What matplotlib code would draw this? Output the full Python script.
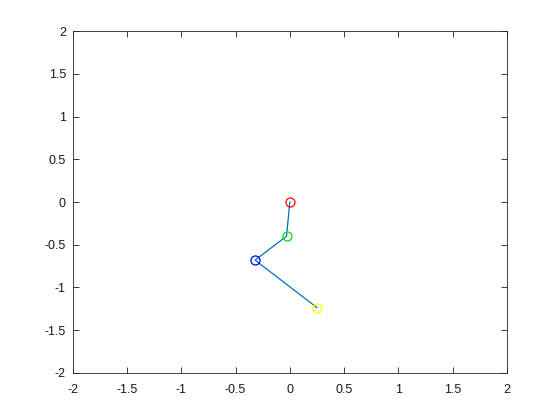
import matplotlib
matplotlib.use('Agg')
import matplotlib.pyplot as plt

# joint positions
xs = [0.0, -0.03, -0.32, 0.25]
ys = [0.0, -0.40, -0.68, -1.235]
joint_colors = ['#ff0000', '#00e000', '#0000ff', '#ffff00']

ticks = [-2, -1.5, -1, -0.5, 0, 0.5, 1, 1.5, 2]
tick_labels = ['-2', '-1.5', '-1', '-0.5', '0', '0.5', '1', '1.5', '2']

plt.rcParams['font.family'] = ['Liberation Sans', 'DejaVu Sans']

fig = plt.figure(figsize=(5.6, 4.2), dpi=100)
ax = fig.add_axes([0.13, 0.112, 0.775, 0.814])

ax.plot(xs, ys, color='#0072bd', linewidth=0.9)
for x, y, c in zip(xs, ys, joint_colors):
    ax.plot(x, y, 'o', markerfacecolor='none', markeredgecolor=c, markersize=6.5, markeredgewidth=0.9)

ax.set_xlim(-2, 2)
ax.set_ylim(-2, 2)
ax.set_xticks(ticks)
ax.set_xticklabels(tick_labels)
ax.set_yticks(ticks)
ax.set_yticklabels(tick_labels)
ax.tick_params(direction='in', top=True, right=True, length=4, width=0.6, labelsize=9, colors='#1a1a1a')
ax.tick_params(axis='x', pad=8)
ax.tick_params(axis='y', pad=5)
for s in ax.spines.values():
    s.set_linewidth(0.6)
    s.set_color('#262626')

fig.savefig('out.png', dpi=100)
